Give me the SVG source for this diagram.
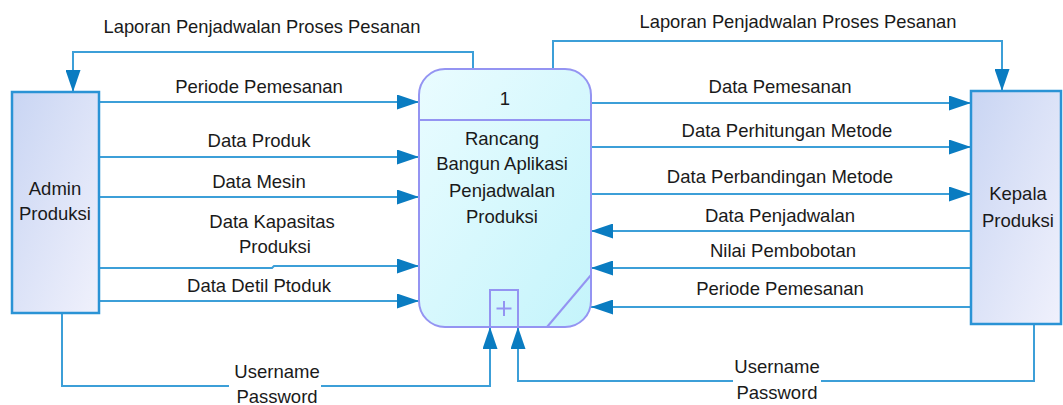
<svg xmlns="http://www.w3.org/2000/svg" width="1063" height="405" viewBox="0 0 1063 405">
  <defs>
    <linearGradient id="entityFill" x1="0" y1="0" x2="1" y2="1">
      <stop offset="0" stop-color="#c9d5f3"/>
      <stop offset="1" stop-color="#f0f1fc"/>
    </linearGradient>
    <linearGradient id="processFill" x1="0" y1="0" x2="1" y2="1">
      <stop offset="0" stop-color="#eafcff"/>
      <stop offset="1" stop-color="#c4f4fb"/>
    </linearGradient>
    <marker id="arrow" viewBox="0 0 22 15" refX="22" refY="7.5" markerWidth="22" markerHeight="15" markerUnits="userSpaceOnUse" orient="auto">
      <path d="M0,0 L22,7.5 L0,15 Z" fill="#0a7cc1"/>
    </marker>
    <style>
      text { font-family: "Liberation Sans", Arial, sans-serif; font-size: 18.5px; fill: #1a1a1a; text-anchor: middle; }
      .flow { fill: none; stroke: #3c9fd8; stroke-width: 2; marker-end: url(#arrow); }
      .entity { fill: url(#entityFill); stroke: #2a93d5; stroke-width: 2.5; }
      .process { fill: url(#processFill); stroke: #9494f2; stroke-width: 2; }
      .pline { fill: none; stroke: #9494f2; stroke-width: 2; }
      .mask { fill: #ffffff; }
    </style>
  </defs>

  <!-- connectors -->
  <g id="connectors">
    <!-- report flows over the top -->
    <path class="flow" d="M473,69 V52 H73 V92"/>
    <text x="262" y="33" textLength="317" lengthAdjust="spacingAndGlyphs">Laporan Penjadwalan Proses Pesanan</text>
    <path class="flow" d="M553,69 V41 H1002 V91"/>
    <text x="798" y="28" textLength="317" lengthAdjust="spacingAndGlyphs">Laporan Penjadwalan Proses Pesanan</text>

    <!-- Admin Produksi to process -->
    <path class="flow" d="M99,102 H419"/>
    <text x="259" y="93">Periode Pemesanan</text>
    <path class="flow" d="M99,157 H419"/>
    <text x="259" y="147">Data Produk</text>
    <path class="flow" d="M99,197 H419"/>
    <text x="259" y="188">Data Mesin</text>
    <path class="flow" d="M99,268 H272 L274,266 H419"/>
    <text x="272" y="228">Data Kapasitas</text>
    <text x="275" y="253">Produksi</text>
    <path class="flow" d="M99,301 H419"/>
    <text x="259" y="292">Data Detil Ptoduk</text>

    <!-- process to Kepala Produksi -->
    <path class="flow" d="M591,103 H971"/>
    <text x="780" y="93">Data Pemesanan</text>
    <path class="flow" d="M591,147 H971"/>
    <text x="787" y="137">Data Perhitungan Metode</text>
    <path class="flow" d="M591,194 H971"/>
    <text x="780" y="183">Data Perbandingan Metode</text>

    <!-- Kepala Produksi to process -->
    <path class="flow" d="M971,231 H591"/>
    <text x="780" y="222">Data Penjadwalan</text>
    <path class="flow" d="M971,268 H591"/>
    <text x="783" y="257">Nilai Pembobotan</text>
    <path class="flow" d="M971,307 H591"/>
    <text x="780" y="295">Periode Pemesanan</text>

    <!-- login flows from below -->
    <path class="flow" d="M62,313 V386 H490 V327"/>
    <rect class="mask" x="229" y="376" width="92" height="20"/>
    <text x="277" y="378">Username</text>
    <text x="277" y="403">Password</text>
    <path class="flow" d="M1034,324 V381 H518 V327"/>
    <rect class="mask" x="733" y="371" width="88" height="20"/>
    <text x="777" y="373">Username</text>
    <text x="777" y="399">Password</text>
  </g>

  <!-- external entity -->
  <g id="admin-produksi">
    <rect class="entity" x="12" y="92" width="87" height="221"/>
    <text x="55" y="195">Admin</text>
    <text x="55" y="220">Produksi</text>
  </g>

  <!-- process -->
  <g id="process-1">
    <rect class="process" x="419" y="69" width="172" height="258" rx="26" ry="26"/>
    <line class="pline" x1="419" y1="120" x2="591" y2="120"/>
    <line class="pline" x1="591" y1="275" x2="547" y2="327"/>
    <rect class="pline" x="490" y="290" width="28" height="37"/>
    <path class="pline" d="M504,301 V316 M496.5,308.5 H511.5" stroke-width="1.5"/>
    <text x="505" y="105">1</text>
    <text x="502" y="145">Rancang</text>
    <text x="502" y="170">Bangun Aplikasi</text>
    <text x="502" y="197">Penjadwalan</text>
    <text x="502" y="223">Produksi</text>
  </g>

  <!-- external entity -->
  <g id="kepala-produksi">
    <rect class="entity" x="971" y="91" width="90" height="233"/>
    <text x="1018" y="200">Kepala</text>
    <text x="1018" y="227">Produksi</text>
  </g>
</svg>
